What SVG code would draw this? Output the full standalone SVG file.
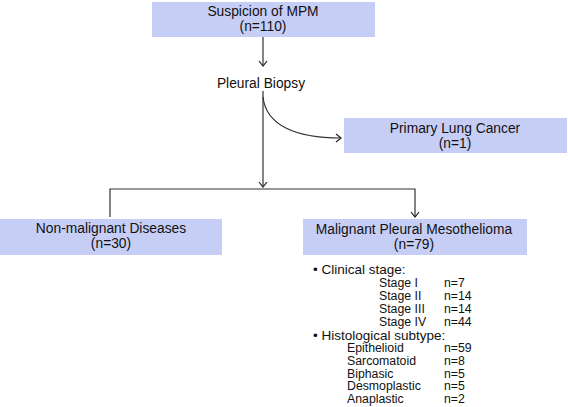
<svg xmlns="http://www.w3.org/2000/svg" width="568" height="407" viewBox="0 0 568 407">
<defs>
<marker id="arr" markerWidth="10" markerHeight="10" refX="8" refY="5" orient="auto" markerUnits="userSpaceOnUse">
<path d="M3,1 L8,5 L3,9" fill="none" stroke="#222" stroke-width="1.2"/>
</marker>
<style>
.box{fill:#c7cef6;}
.t{font-family:"Liberation Sans",Arial,sans-serif;font-size:13.8px;fill:#111;text-anchor:middle;}
.l{font-family:"Liberation Sans",Arial,sans-serif;font-size:13.5px;fill:#111;}
.s{font-family:"Liberation Sans",Arial,sans-serif;font-size:12.3px;fill:#111;}
.c{fill:none;stroke:#333;stroke-width:1.2;}
</style>
</defs>
<rect width="568" height="407" fill="#fff"/>
<g id="connectors">
<line class="c" x1="263" y1="37" x2="263" y2="66" marker-end="url(#arr)"/>
<line class="c" x1="263" y1="91" x2="263" y2="187" marker-end="url(#arr)"/>
<path class="c" d="M263,97 C266,125 295,138 341,138" marker-end="url(#arr)"/>
<polyline class="c" points="110,217 110,189 415,189 415,217" marker-end="url(#arr)"/>
</g>
<g id="suspicion">
<rect class="box" x="152" y="2" width="223" height="35"/>
<text class="t" x="263" y="16">Suspicion of MPM</text>
<text class="t" x="263" y="31">(n=110)</text>
</g>
<g id="biopsy">
<text class="t" x="261" y="88">Pleural Biopsy</text>
</g>
<g id="lungcancer">
<rect class="box" x="344" y="118" width="223" height="35"/>
<text class="t" x="455" y="133">Primary Lung Cancer</text>
<text class="t" x="455" y="148">(n=1)</text>
</g>
<g id="nonmalignant">
<rect class="box" x="0" y="219" width="222" height="36"/>
<text class="t" x="111" y="233">Non-malignant Diseases</text>
<text class="t" x="111" y="248">(n=30)</text>
</g>
<g id="mpm">
<rect class="box" x="303" y="219" width="224" height="36"/>
<text class="t" x="414" y="233.5">Malignant Pleural Mesothelioma</text>
<text class="t" x="414" y="248.5">(n=79)</text>
</g>
<g id="details">
<text class="l" x="313" y="274">• Clinical stage:</text>
<text class="s" x="379" y="286.5">Stage I</text><text class="s" x="444" y="286.5">n=7</text>
<text class="s" x="379" y="299.5">Stage II</text><text class="s" x="444" y="299.5">n=14</text>
<text class="s" x="379" y="312.5">Stage III</text><text class="s" x="444" y="312.5">n=14</text>
<text class="s" x="379" y="325.5">Stage IV</text><text class="s" x="444" y="325.5">n=44</text>
<text class="l" x="313" y="339.5">• Histological subtype:</text>
<text class="s" x="347" y="352">Epithelioid</text><text class="s" x="444" y="352">n=59</text>
<text class="s" x="347" y="365">Sarcomatoid</text><text class="s" x="444" y="365">n=8</text>
<text class="s" x="347" y="377.5">Biphasic</text><text class="s" x="444" y="377.5">n=5</text>
<text class="s" x="347" y="390">Desmoplastic</text><text class="s" x="444" y="390">n=5</text>
<text class="s" x="347" y="402.5">Anaplastic</text><text class="s" x="444" y="402.5">n=2</text>
</g>
</svg>
